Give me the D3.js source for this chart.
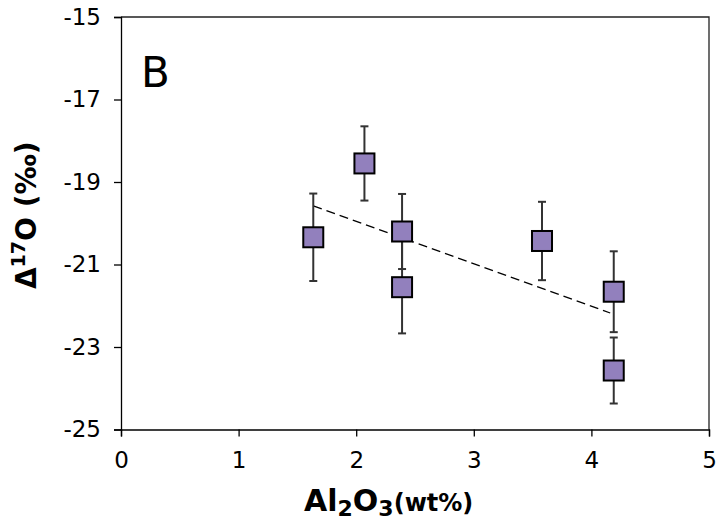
<!DOCTYPE html>
<html>
<head>
<meta charset="utf-8">
<script src="https://cdn.jsdelivr.net/npm/d3@7"></script>
<style>
  html, body { margin: 0; padding: 0; background: #fff; }
  svg { display: block; }
  text { font-family: "DejaVu Sans", Verdana, sans-serif; }
</style>
</head>
<body>
<svg id="chart" width="717" height="525"></svg>
<script>
// ---- data ----
const al2o3 = [1.635, 2.07, 2.39, 2.39, 3.58, 4.19, 4.19];
const d17O  = [-20.34, -18.55, -20.20, -21.55, -20.43, -21.66, -23.57];
const d17Oerr = [1.06, 0.90, 0.91, 1.12, 0.95, 0.98, 0.80];
const xTicks = [0, 1, 2, 3, 4, 5];
const yTicks = [-25, -23, -21, -19, -17, -15];
const panelLabel = "B";

// ---- layout ----
const margin = { left: 121, right: 8, top: 17, bottom: 95.5 };
const W = 717, H = 525;
const svg = d3.select("#chart");
const iw = W - margin.left - margin.right;
const ih = H - margin.top - margin.bottom;

const x = d3.scaleLinear().domain([0, 5]).range([margin.left, margin.left + iw]);
const y = d3.scaleLinear().domain([-25, -15]).range([margin.top + ih, margin.top]);

// frame (top & right)
svg.append("path")
  .attr("d", `M${x(0)},${y(-15)}H${x(5)}V${y(-25)}`)
  .attr("fill", "none").attr("stroke", "#222").attr("stroke-width", 1.3);

// axes
const xAxis = d3.axisBottom(x).tickValues(xTicks).tickFormat(d3.format("d")).tickSizeOuter(0).tickSize(7).tickPadding(15);
const yAxis = d3.axisLeft(y).tickValues(yTicks).tickFormat(d => d3.format("d")(d).replace("−", "-")).tickSizeOuter(0).tickSize(7).tickPadding(13);

const gx = svg.append("g").attr("transform", `translate(0,${y(-25)})`).call(xAxis);
const gy = svg.append("g").attr("transform", `translate(${x(0)},0)`).call(yAxis);
[gx, gy].forEach(g => {
  g.selectAll("path, line").attr("stroke", "#000").attr("stroke-width", 1.3);
  g.selectAll("text").attr("font-size", 23).attr("fill", "#000")
    .attr("font-family", "'DejaVu Sans', Verdana, sans-serif");
});

// regression line (least squares) over data range
const mx = d3.mean(al2o3), my = d3.mean(d17O);
let sxy = 0, sxx = 0;
al2o3.forEach((xv, i) => { sxy += (xv - mx) * (d17O[i] - my); sxx += (xv - mx) ** 2; });
const slope = sxy / sxx, icpt = my - slope * mx;
const xr = [d3.min(al2o3), 4.16];
svg.append("line")
  .attr("x1", x(xr[0])).attr("y1", y(icpt + slope * xr[0]))
  .attr("x2", x(xr[1])).attr("y2", y(icpt + slope * xr[1]))
  .attr("stroke", "#000").attr("stroke-width", 1.3).attr("stroke-dasharray", "9,5");

// error bars
const pts = al2o3.map((xv, i) => ({ x: xv, y: d17O[i], e: d17Oerr[i] }));
const eb = svg.append("g").attr("stroke", "#333").attr("stroke-width", 2);
pts.forEach(p => {
  eb.append("line").attr("x1", x(p.x)).attr("x2", x(p.x)).attr("y1", y(p.y + p.e)).attr("y2", y(p.y - p.e));
  [p.y + p.e, p.y - p.e].forEach(v => {
    eb.append("line").attr("x1", x(p.x) - 4).attr("x2", x(p.x) + 4).attr("y1", y(v)).attr("y2", y(v));
  });
});

// markers
const s = 20;
svg.append("g").selectAll("rect").data(pts).join("rect")
  .attr("x", d => x(d.x) - s / 2).attr("y", d => y(d.y) - s / 2)
  .attr("width", s).attr("height", s)
  .attr("fill", "#9280bd").attr("stroke", "#000").attr("stroke-width", 2);

// panel label
svg.append("text").attr("x", 141).attr("y", 87).attr("font-size", 42).attr("fill", "#000").text(panelLabel);

// x title
const xt = svg.append("text").attr("x", 304).attr("y", 511).attr("text-anchor", "start")
  .attr("font-weight", "bold").attr("font-size", 30).attr("fill", "#000");
xt.append("tspan").text("Al");
xt.append("tspan").attr("font-size", 22).attr("dy", 5).text("2");
xt.append("tspan").attr("dy", -5).text("O");
xt.append("tspan").attr("font-size", 22).attr("dy", 5).text("3");
xt.append("tspan").attr("dy", -5).attr("font-size", 24).text("(wt%)");

// y title
const yt = svg.append("text").attr("transform", `translate(36,${(y(-15) + y(-25)) / 2 - 8}) rotate(-90)`)
  .attr("text-anchor", "middle").attr("font-weight", "bold").attr("font-size", 28).attr("fill", "#000");
yt.append("tspan").text("Δ");
yt.append("tspan").attr("font-size", 19).attr("dy", -11).text("17");
yt.append("tspan").attr("dy", 11).text("O (‰)");
</script>
</body>
</html>
